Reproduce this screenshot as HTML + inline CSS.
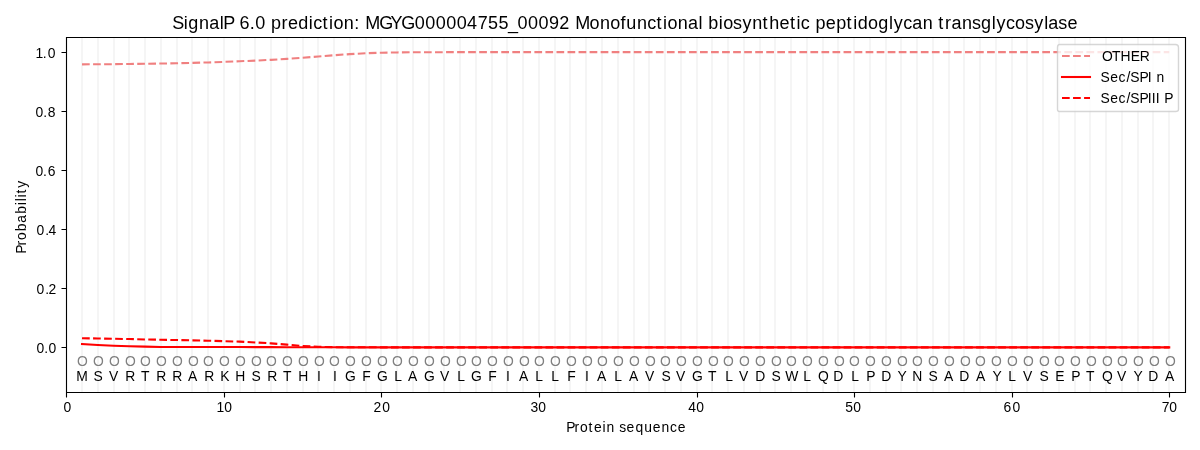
<!DOCTYPE html>
<html><head><meta charset="utf-8"><title>SignalP 6.0 prediction</title>
<style>
html,body{margin:0;padding:0;background:#fff;width:1200px;height:450px;overflow:hidden}
svg{display:block;font-family:"Liberation Sans",sans-serif;will-change:transform}
</style></head><body>
<svg width="1200" height="450" viewBox="0 0 1200 450">
<defs><clipPath id="c"><rect x="66" y="37" width="1119" height="355"/></clipPath></defs>
<rect width="1200" height="450" fill="#fff"/>
<g clip-path="url(#c)"><path d="M82 392V37M98 392V37M114 392V37M129 392V37M145 392V37M161 392V37M177 392V37M192 392V37M208 392V37M224 392V37M240 392V37M255 392V37M271 392V37M287 392V37M303 392V37M318 392V37M334 392V37M350 392V37M366 392V37M381 392V37M397 392V37M413 392V37M429 392V37M444 392V37M460 392V37M476 392V37M492 392V37M507 392V37M523 392V37M539 392V37M555 392V37M570 392V37M586 392V37M602 392V37M618 392V37M634 392V37M649 392V37M665 392V37M681 392V37M697 392V37M712 392V37M728 392V37M744 392V37M760 392V37M775 392V37M791 392V37M807 392V37M823 392V37M838 392V37M854 392V37M870 392V37M886 392V37M901 392V37M917 392V37M933 392V37M949 392V37M964 392V37M980 392V37M996 392V37M1012 392V37M1027 392V37M1043 392V37M1059 392V37M1075 392V37M1090 392V37M1106 392V37M1122 392V37M1138 392V37M1153 392V37M1169 392V37" stroke="#f5f5f5" stroke-width="2.083" stroke-linecap="square" fill="none"/><path d="M82.03 64.36 L97.79 64.3 L113.55 64.18 L129.3 63.97 L145.06 63.76 L160.82 63.56 L176.57 63.26 L192.33 62.88 L208.09 62.44 L223.84 61.9 L239.6 61.25 L255.36 60.6 L271.11 59.84 L286.87 58.89 L302.63 57.71 L318.38 56.5 L334.14 55.26 L349.9 54.11 L365.65 53.25 L381.41 52.69 L397.17 52.42 L412.92 52.31 L428.68 52.22 L444.44 52.16 L460.19 52.1 L475.95 52.1 L491.71 52.1 L507.46 52.1 L523.22 52.1 L538.98 52.1 L554.73 52.1 L570.49 52.1 L586.25 52.1 L602 52.1 L617.76 52.1 L633.52 52.1 L649.27 52.1 L665.03 52.1 L680.79 52.1 L696.54 52.1 L712.3 52.1 L728.06 52.1 L743.81 52.1 L759.57 52.1 L775.33 52.1 L791.08 52.1 L806.84 52.1 L822.6 52.1 L838.35 52.1 L854.11 52.1 L869.87 52.1 L885.62 52.1 L901.38 52.1 L917.14 52.1 L932.89 52.1 L948.65 52.1 L964.41 52.1 L980.16 52.1 L995.92 52.1 L1011.68 52.1 L1027.43 52.1 L1043.19 52.1 L1058.95 52.1 L1074.7 52.1 L1090.46 52.1 L1106.22 52.1 L1121.97 52.1 L1137.73 52.1 L1153.49 52.1 L1169.24 52.1" stroke="#f08080" stroke-width="2.083" stroke-dasharray="7.708 3.333" stroke-linecap="butt" stroke-linejoin="round" fill="none"/><path d="M82.03 344.03 L97.79 344.97 L113.55 345.8 L129.3 346.33 L145.06 346.66 L160.82 346.92 L176.57 346.98 L192.33 347.01 L208.09 347.04 L223.84 347.04 L239.6 347.07 L255.36 347.1 L271.11 347.13 L286.87 347.19 L302.63 347.22 L318.38 347.28 L334.14 347.31 L349.9 347.34 L365.65 347.34 L381.41 347.34 L397.17 347.34 L412.92 347.34 L428.68 347.34 L444.44 347.34 L460.19 347.34 L475.95 347.34 L491.71 347.34 L507.46 347.34 L523.22 347.34 L538.98 347.34 L554.73 347.34 L570.49 347.34 L586.25 347.34 L602 347.34 L617.76 347.34 L633.52 347.34 L649.27 347.34 L665.03 347.34 L680.79 347.34 L696.54 347.34 L712.3 347.34 L728.06 347.34 L743.81 347.34 L759.57 347.34 L775.33 347.34 L791.08 347.34 L806.84 347.34 L822.6 347.34 L838.35 347.34 L854.11 347.34 L869.87 347.34 L885.62 347.34 L901.38 347.34 L917.14 347.34 L932.89 347.34 L948.65 347.34 L964.41 347.34 L980.16 347.34 L995.92 347.34 L1011.68 347.34 L1027.43 347.34 L1043.19 347.34 L1058.95 347.34 L1074.7 347.34 L1090.46 347.34 L1106.22 347.34 L1121.97 347.34 L1137.73 347.34 L1153.49 347.34 L1169.24 347.34" stroke="#ff0000" stroke-width="2.083" stroke-linecap="square" stroke-linejoin="round" fill="none"/><path d="M82.03 338.24 L97.79 338.48 L113.55 338.74 L129.3 339.04 L145.06 339.45 L160.82 339.75 L176.57 340.04 L192.33 340.37 L208.09 340.69 L223.84 341.13 L239.6 341.66 L255.36 342.46 L271.11 343.35 L286.87 344.62 L302.63 345.95 L318.38 346.83 L334.14 347.19 L349.9 347.28 L365.65 347.31 L381.41 347.34 L397.17 347.34 L412.92 347.34 L428.68 347.34 L444.44 347.34 L460.19 347.34 L475.95 347.34 L491.71 347.34 L507.46 347.34 L523.22 347.34 L538.98 347.34 L554.73 347.34 L570.49 347.34 L586.25 347.34 L602 347.34 L617.76 347.34 L633.52 347.34 L649.27 347.34 L665.03 347.34 L680.79 347.34 L696.54 347.34 L712.3 347.34 L728.06 347.34 L743.81 347.34 L759.57 347.34 L775.33 347.34 L791.08 347.34 L806.84 347.34 L822.6 347.34 L838.35 347.34 L854.11 347.34 L869.87 347.34 L885.62 347.34 L901.38 347.34 L917.14 347.34 L932.89 347.34 L948.65 347.34 L964.41 347.34 L980.16 347.34 L995.92 347.34 L1011.68 347.34 L1027.43 347.34 L1043.19 347.34 L1058.95 347.34 L1074.7 347.34 L1090.46 347.34 L1106.22 347.34 L1121.97 347.34 L1137.73 347.34 L1153.49 347.34 L1169.24 347.34" stroke="#ff0000" stroke-width="2.083" stroke-dasharray="7.708 3.333" stroke-linecap="butt" stroke-linejoin="round" fill="none"/></g>
<path d="M66.5 392.5V37.5M1185.5 392.5V37.5M66.5 392.5H1185.5M66.5 37.5H1185.5" stroke="#000" stroke-width="1.111" stroke-linecap="square" stroke-linejoin="miter" fill="none"/>
<path d="M66.5 392.5V397.5M224.5 392.5V397.5M381.5 392.5V397.5M539.5 392.5V397.5M697.5 392.5V397.5M854.5 392.5V397.5M1012.5 392.5V397.5M1169.5 392.5V397.5M66.5 347.5H61.5M66.5 288.5H61.5M66.5 229.5H61.5M66.5 170.5H61.5M66.5 111.5H61.5M66.5 52.5H61.5" stroke="#000" stroke-width="1.111" stroke-linecap="butt" fill="none"/>
<path d="M1059.5 111.5L1175.5 111.5Q1178.5 111.5 1178.5 109.5L1178.5 47.5Q1178.5 44.5 1175.5 44.5L1059.5 44.5Q1057.5 44.5 1057.5 47.5L1057.5 109.5Q1057.5 111.5 1059.5 111.5Z" fill="#fff" stroke="#ccc" stroke-width="1.389" stroke-linejoin="miter" opacity="0.8"/>
<path d="M1062 56H1090" stroke="#f08080" stroke-width="2.083" stroke-dasharray="7.708 3.333" stroke-linecap="butt" fill="none"/><path d="M1062 77H1090" stroke="#ff0000" stroke-width="2.083" stroke-linecap="square" fill="none"/><path d="M1062 98H1090" stroke="#ff0000" stroke-width="2.083" stroke-dasharray="7.708 3.333" stroke-linecap="butt" fill="none"/>
<text x="67.36" y="412" font-size="13.89" text-anchor="middle">0</text>
<text x="216.42 224.36" y="412" font-size="13.89">10</text>
<text x="373.56 382.24" y="412" font-size="13.89">20</text>
<text x="530.45 538.18" y="412" font-size="13.89">30</text>
<text x="688.25 696.26" y="412" font-size="13.89">40</text>
<text x="845.19 853.24" y="412" font-size="13.89">50</text>
<text x="1003.46 1012.58" y="412" font-size="13.89">60</text>
<text x="1161.69 1169.22" y="412" font-size="13.89">70</text>
<text x="566.33 574.49 580.05 588.42 594.1 602.55 606.6 615.06 619.15 626.47 635.49 644.17 652.85 661.48 670.1 677.72" y="432" font-size="13.89">Protein sequence</text>
<text x="36.44 44.16 48.57" y="353" font-size="13.89">0.0</text>
<text x="36.6 45.31 48.54" y="294" font-size="13.89">0.2</text>
<text x="36.45 45.16 48.57" y="235" font-size="13.89">0.4</text>
<text x="35.41 43.12 47.78" y="176" font-size="13.89">0.6</text>
<text x="35.46 43.18 47.84" y="117" font-size="13.89">0.8</text>
<text x="35.6 42.75 47.66" y="58" font-size="13.89">1.0</text>
<text x="-39.23 -31.07 -25.51 -16.76 -8.14 0.74 9.37 13.24 17.12 21.11 26.74" y="-0.27" font-size="13.89" transform="translate(26 214.53) rotate(-90)">Probability</text>
<text x="81.97" y="381" font-size="13.89" text-anchor="middle">M</text>
<text x="82.47" y="366" font-size="13.89" text-anchor="middle" fill="#808080">O</text>
<text x="98.17" y="381" font-size="13.89" text-anchor="middle">S</text>
<text x="98.47" y="366" font-size="13.89" text-anchor="middle" fill="#808080">O</text>
<text x="113.53" y="381" font-size="13.89" text-anchor="middle">V</text>
<text x="114.48" y="366" font-size="13.89" text-anchor="middle" fill="#808080">O</text>
<text x="130.27" y="381" font-size="13.89" text-anchor="middle">R</text>
<text x="130.48" y="366" font-size="13.89" text-anchor="middle" fill="#808080">O</text>
<text x="145.34" y="381" font-size="13.89" text-anchor="middle">T</text>
<text x="145.49" y="366" font-size="13.89" text-anchor="middle" fill="#808080">O</text>
<text x="161.31" y="381" font-size="13.89" text-anchor="middle">R</text>
<text x="161.49" y="366" font-size="13.89" text-anchor="middle" fill="#808080">O</text>
<text x="177.31" y="381" font-size="13.89" text-anchor="middle">R</text>
<text x="177.5" y="366" font-size="13.89" text-anchor="middle" fill="#808080">O</text>
<text x="192.64" y="381" font-size="13.89" text-anchor="middle">A</text>
<text x="193.51" y="366" font-size="13.89" text-anchor="middle" fill="#808080">O</text>
<text x="209.33" y="381" font-size="13.89" text-anchor="middle">R</text>
<text x="208.52" y="366" font-size="13.89" text-anchor="middle" fill="#808080">O</text>
<text x="224.77" y="381" font-size="13.89" text-anchor="middle">K</text>
<text x="224.52" y="366" font-size="13.89" text-anchor="middle" fill="#808080">O</text>
<text x="240.36" y="381" font-size="13.89" text-anchor="middle">H</text>
<text x="240.28" y="366" font-size="13.89" text-anchor="middle" fill="#808080">O</text>
<text x="256.22" y="381" font-size="13.89" text-anchor="middle">S</text>
<text x="256.28" y="366" font-size="13.89" text-anchor="middle" fill="#808080">O</text>
<text x="272.36" y="381" font-size="13.89" text-anchor="middle">R</text>
<text x="271.3" y="366" font-size="13.89" text-anchor="middle" fill="#808080">O</text>
<text x="287.2" y="381" font-size="13.89" text-anchor="middle">T</text>
<text x="287.3" y="366" font-size="13.89" text-anchor="middle" fill="#808080">O</text>
<text x="303.39" y="381" font-size="13.89" text-anchor="middle">H</text>
<text x="303.31" y="366" font-size="13.89" text-anchor="middle" fill="#808080">O</text>
<text x="318.97" y="381" font-size="13.89" text-anchor="middle">I</text>
<text x="319.31" y="366" font-size="13.89" text-anchor="middle" fill="#808080">O</text>
<text x="334.82" y="381" font-size="13.89" text-anchor="middle">I</text>
<text x="334.32" y="366" font-size="13.89" text-anchor="middle" fill="#808080">O</text>
<text x="350.33" y="381" font-size="13.89" text-anchor="middle">G</text>
<text x="350.32" y="366" font-size="13.89" text-anchor="middle" fill="#808080">O</text>
<text x="366.4" y="381" font-size="13.89" text-anchor="middle">F</text>
<text x="366.32" y="366" font-size="13.89" text-anchor="middle" fill="#808080">O</text>
<text x="382.35" y="381" font-size="13.89" text-anchor="middle">G</text>
<text x="382.33" y="366" font-size="13.89" text-anchor="middle" fill="#808080">O</text>
<text x="398.19" y="381" font-size="13.89" text-anchor="middle">L</text>
<text x="397.34" y="366" font-size="13.89" text-anchor="middle" fill="#808080">O</text>
<text x="412.72" y="381" font-size="13.89" text-anchor="middle">A</text>
<text x="413.34" y="366" font-size="13.89" text-anchor="middle" fill="#808080">O</text>
<text x="429.38" y="381" font-size="13.89" text-anchor="middle">G</text>
<text x="429.35" y="366" font-size="13.89" text-anchor="middle" fill="#808080">O</text>
<text x="444.66" y="381" font-size="13.89" text-anchor="middle">V</text>
<text x="445.35" y="366" font-size="13.89" text-anchor="middle" fill="#808080">O</text>
<text x="461.22" y="381" font-size="13.89" text-anchor="middle">L</text>
<text x="461.36" y="366" font-size="13.89" text-anchor="middle" fill="#808080">O</text>
<text x="476.39" y="381" font-size="13.89" text-anchor="middle">G</text>
<text x="476.36" y="366" font-size="13.89" text-anchor="middle" fill="#808080">O</text>
<text x="492.42" y="381" font-size="13.89" text-anchor="middle">F</text>
<text x="492.38" y="366" font-size="13.89" text-anchor="middle" fill="#808080">O</text>
<text x="508.05" y="381" font-size="13.89" text-anchor="middle">I</text>
<text x="508.39" y="366" font-size="13.89" text-anchor="middle" fill="#808080">O</text>
<text x="523.53" y="381" font-size="13.89" text-anchor="middle">A</text>
<text x="524.4" y="366" font-size="13.89" text-anchor="middle" fill="#808080">O</text>
<text x="539.02" y="381" font-size="13.89" text-anchor="middle">L</text>
<text x="539.41" y="366" font-size="13.89" text-anchor="middle" fill="#808080">O</text>
<text x="555.02" y="381" font-size="13.89" text-anchor="middle">L</text>
<text x="555.42" y="366" font-size="13.89" text-anchor="middle" fill="#808080">O</text>
<text x="571.48" y="381" font-size="13.89" text-anchor="middle">F</text>
<text x="571.42" y="366" font-size="13.89" text-anchor="middle" fill="#808080">O</text>
<text x="586.81" y="381" font-size="13.89" text-anchor="middle">I</text>
<text x="587.43" y="366" font-size="13.89" text-anchor="middle" fill="#808080">O</text>
<text x="601.56" y="381" font-size="13.89" text-anchor="middle">A</text>
<text x="602.43" y="366" font-size="13.89" text-anchor="middle" fill="#808080">O</text>
<text x="618.05" y="381" font-size="13.89" text-anchor="middle">L</text>
<text x="618.44" y="366" font-size="13.89" text-anchor="middle" fill="#808080">O</text>
<text x="633.56" y="381" font-size="13.89" text-anchor="middle">A</text>
<text x="634.45" y="366" font-size="13.89" text-anchor="middle" fill="#808080">O</text>
<text x="649.75" y="381" font-size="13.89" text-anchor="middle">V</text>
<text x="650.45" y="366" font-size="13.89" text-anchor="middle" fill="#808080">O</text>
<text x="666.12" y="381" font-size="13.89" text-anchor="middle">S</text>
<text x="665.46" y="366" font-size="13.89" text-anchor="middle" fill="#808080">O</text>
<text x="680.52" y="381" font-size="13.89" text-anchor="middle">V</text>
<text x="681.46" y="366" font-size="13.89" text-anchor="middle" fill="#808080">O</text>
<text x="697.51" y="381" font-size="13.89" text-anchor="middle">G</text>
<text x="697.47" y="366" font-size="13.89" text-anchor="middle" fill="#808080">O</text>
<text x="712.36" y="381" font-size="13.89" text-anchor="middle">T</text>
<text x="713.48" y="366" font-size="13.89" text-anchor="middle" fill="#808080">O</text>
<text x="729.03" y="381" font-size="13.89" text-anchor="middle">L</text>
<text x="728.49" y="366" font-size="13.89" text-anchor="middle" fill="#808080">O</text>
<text x="743.54" y="381" font-size="13.89" text-anchor="middle">V</text>
<text x="744.49" y="366" font-size="13.89" text-anchor="middle" fill="#808080">O</text>
<text x="760.32" y="381" font-size="13.89" text-anchor="middle">D</text>
<text x="760.5" y="366" font-size="13.89" text-anchor="middle" fill="#808080">O</text>
<text x="776.19" y="381" font-size="13.89" text-anchor="middle">S</text>
<text x="776.5" y="366" font-size="13.89" text-anchor="middle" fill="#808080">O</text>
<text x="791.85" y="381" font-size="13.89" text-anchor="middle">W</text>
<text x="791.51" y="366" font-size="13.89" text-anchor="middle" fill="#808080">O</text>
<text x="807.08" y="381" font-size="13.89" text-anchor="middle">L</text>
<text x="807.52" y="366" font-size="13.89" text-anchor="middle" fill="#808080">O</text>
<text x="823.33" y="381" font-size="13.89" text-anchor="middle">Q</text>
<text x="823.28" y="366" font-size="13.89" text-anchor="middle" fill="#808080">O</text>
<text x="838.35" y="381" font-size="13.89" text-anchor="middle">D</text>
<text x="839.28" y="366" font-size="13.89" text-anchor="middle" fill="#808080">O</text>
<text x="855.09" y="381" font-size="13.89" text-anchor="middle">L</text>
<text x="854.29" y="366" font-size="13.89" text-anchor="middle" fill="#808080">O</text>
<text x="870.99" y="381" font-size="13.89" text-anchor="middle">P</text>
<text x="870.29" y="366" font-size="13.89" text-anchor="middle" fill="#808080">O</text>
<text x="886.16" y="381" font-size="13.89" text-anchor="middle">D</text>
<text x="886.3" y="366" font-size="13.89" text-anchor="middle" fill="#808080">O</text>
<text x="902.01" y="381" font-size="13.89" text-anchor="middle">Y</text>
<text x="902.31" y="366" font-size="13.89" text-anchor="middle" fill="#808080">O</text>
<text x="917.16" y="381" font-size="13.89" text-anchor="middle">N</text>
<text x="917.32" y="366" font-size="13.89" text-anchor="middle" fill="#808080">O</text>
<text x="933.01" y="381" font-size="13.89" text-anchor="middle">S</text>
<text x="933.32" y="366" font-size="13.89" text-anchor="middle" fill="#808080">O</text>
<text x="948.7" y="381" font-size="13.89" text-anchor="middle">A</text>
<text x="949.32" y="366" font-size="13.89" text-anchor="middle" fill="#808080">O</text>
<text x="964.19" y="381" font-size="13.89" text-anchor="middle">D</text>
<text x="965.32" y="366" font-size="13.89" text-anchor="middle" fill="#808080">O</text>
<text x="980.72" y="381" font-size="13.89" text-anchor="middle">A</text>
<text x="980.33" y="366" font-size="13.89" text-anchor="middle" fill="#808080">O</text>
<text x="997.06" y="381" font-size="13.89" text-anchor="middle">Y</text>
<text x="996.33" y="366" font-size="13.89" text-anchor="middle" fill="#808080">O</text>
<text x="1012.21" y="381" font-size="13.89" text-anchor="middle">L</text>
<text x="1012.34" y="366" font-size="13.89" text-anchor="middle" fill="#808080">O</text>
<text x="1027.66" y="381" font-size="13.89" text-anchor="middle">V</text>
<text x="1028.35" y="366" font-size="13.89" text-anchor="middle" fill="#808080">O</text>
<text x="1044.04" y="381" font-size="13.89" text-anchor="middle">S</text>
<text x="1044.36" y="366" font-size="13.89" text-anchor="middle" fill="#808080">O</text>
<text x="1059.77" y="381" font-size="13.89" text-anchor="middle">E</text>
<text x="1059.36" y="366" font-size="13.89" text-anchor="middle" fill="#808080">O</text>
<text x="1075.86" y="381" font-size="13.89" text-anchor="middle">P</text>
<text x="1075.37" y="366" font-size="13.89" text-anchor="middle" fill="#808080">O</text>
<text x="1090.28" y="381" font-size="13.89" text-anchor="middle">T</text>
<text x="1091.38" y="366" font-size="13.89" text-anchor="middle" fill="#808080">O</text>
<text x="1107.41" y="381" font-size="13.89" text-anchor="middle">Q</text>
<text x="1107.4" y="366" font-size="13.89" text-anchor="middle" fill="#808080">O</text>
<text x="1121.7" y="381" font-size="13.89" text-anchor="middle">V</text>
<text x="1122.4" y="366" font-size="13.89" text-anchor="middle" fill="#808080">O</text>
<text x="1138.11" y="381" font-size="13.89" text-anchor="middle">Y</text>
<text x="1138.41" y="366" font-size="13.89" text-anchor="middle" fill="#808080">O</text>
<text x="1153.27" y="381" font-size="13.89" text-anchor="middle">D</text>
<text x="1154.42" y="366" font-size="13.89" text-anchor="middle" fill="#808080">O</text>
<text x="1169.55" y="381" font-size="13.89" text-anchor="middle">A</text>
<text x="1170.43" y="366" font-size="13.89" text-anchor="middle" fill="#808080">O</text>
<text x="172.33 183.78 188.27 198.89 209.29 219.77 223.37 234.1 239.49 249.84 255.24 265.6 271.08 281.44 288.11 298.14 308.78 313.21 322.42 329.03 333.42 343.76 354.26 359.85 365.15 379.29 390.41 401.16 414.87 425.37 435.87 446.37 456.87 467.12 477.84 488.06 498.56 508.02 517.49 527.99 538.49 548.94 559.27 569.97 575.27 589.55 599.89 610.17 620.59 626.32 636.89 647.21 656.42 663.03 667.42 677.76 687.91 698.39 702.85 708.33 718.78 723.17 732.91 742.38 752.14 762.55 769.36 779.48 790.05 796.4 800.83 809.97 815.46 825.73 836.21 846.55 853.15 857.64 868.05 878.27 888.89 893.63 903.21 912.16 922.64 932.97 938.3 945.06 951.41 961.89 972.04 981.02 991.64 996.38 1005.96 1015.05 1025.04 1034.25 1044.27 1048.29 1058.16 1067.61" y="29" font-size="18">SignalP 6.0 prediction: MGYG000004755_00092 Monofunctional biosynthetic peptidoglycan transglycosylase</text>
<text x="1102.11 1111.92 1120.38 1130.77 1139.84" y="61" font-size="13.89">OTHER</text>
<text x="1100.59 1110.17 1118.42 1126.52 1130.34 1139.53 1147.73 1151.89 1156.55" y="82" font-size="13.89">Sec/SPI n</text>
<text x="1100.6 1110.19 1118.44 1126.54 1130.35 1139.55 1147.75 1151.75 1155.75 1159.91 1164.3" y="103" font-size="13.89">Sec/SPIII P</text>
</svg>
</body></html>
